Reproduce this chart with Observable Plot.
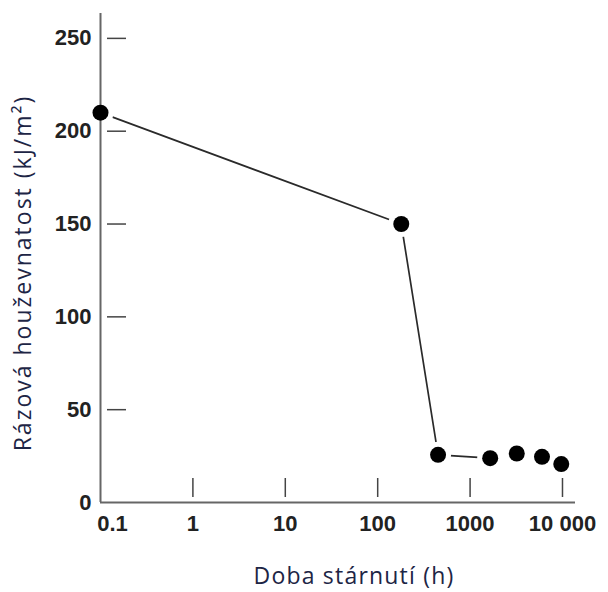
<!DOCTYPE html>
<html><head><meta charset="utf-8">
<script src="https://cdn.jsdelivr.net/npm/d3@7"></script>
<script src="https://cdn.jsdelivr.net/npm/@observablehq/plot@0.6"></script>
<style>body{margin:0;background:#fff} #chart svg{display:block}</style>
</head><body><div id="chart"></div>
<script>
const agingHours = [0.1, 180, 450, 1650, 3200, 6000, 9700];
const impactToughness = [210, 150, 25.7, 23.9, 26.4, 24.6, 20.7];
const joinedByLine = [true, true, true, true, false, false, false];
const xTickValues = [1, 10, 100, 1000, 10000];
const xTickLabels = ["1", "10", "100", "1000", "10 000"];
const xOriginValue = [0.1];
const xOriginLabel = "0.1";
const yTickValues = [0, 50, 100, 150, 200, 250];
const xTitle = "Doba stárnutí (h)";
const yTitle = "Rázová houževnatost (kJ/m²)";

const data = agingHours.map((h, i) => ({h, t: impactToughness[i], joined: joinedByLine[i]}));
const numFont = "'Liberation Sans', Arial, sans-serif";

const plot = Plot.plot({
  width: 608, height: 592,
  marginLeft: 100, marginRight: 33, marginTop: 13, marginBottom: 90,
  style: {fontFamily: numFont, fontWeight: "bold", fontSize: "22px", color: "#222", background: "#fff"},
  x: {type: "log", domain: [0.1, 13830]},
  y: {domain: [0, 263.4]},
  marks: [
    Plot.line(data.filter(d => d.joined), {x: "h", y: "t", stroke: "#2a2a2a", strokeWidth: 1.7}),
    Plot.dot(data, {x: "h", y: "t", r: 13, fill: "white"}),
    Plot.ruleX(xOriginValue, {stroke: "#666", strokeWidth: 2}),
    Plot.ruleY([0], {stroke: "#666", strokeWidth: 2}),
    Plot.axisY(yTickValues.filter(v => v > 0), {anchor: "left", tickSize: -19, dx: 7, fill: "none", label: null, stroke: "#444", strokeWidth: 1.5}),
    Plot.axisY(yTickValues, {anchor: "left", stroke: "none", label: null, fill: "#222"}),
    Plot.axisX(xTickValues, {anchor: "bottom", tickSize: -19, dy: -5, fill: "none", label: null, stroke: "#444", strokeWidth: 1.5}),
    Plot.axisX(xTickValues, {anchor: "bottom", stroke: "none", tickPadding: 7, label: null, fill: "#222",
      tickFormat: v => xTickLabels[xTickValues.indexOf(v)]}),
    Plot.axisX(xOriginValue, {anchor: "bottom", stroke: "none", tickPadding: 7, dx: 12, label: null, fill: "#222",
      tickFormat: () => xOriginLabel}),
    Plot.dot(data, {x: "h", y: "t", r: 8, fill: "black"})
  ]
});
document.getElementById("chart").appendChild(plot);

const svg = d3.select(plot);
const titleStyle = (s, spacing) => s.attr("font-family", "'Open Sans', sans-serif")
  .attr("font-size", 23).attr("font-weight", "normal")
  .attr("letter-spacing", spacing).attr("fill", "#1d2545").attr("text-anchor", "middle");
svg.append("text").attr("x", 354).attr("y", 584).text(xTitle).call(titleStyle, "1.2px");
svg.append("text").attr("transform", "translate(31,273) rotate(-90)").text(yTitle).call(titleStyle, "2px");
</script>
</body></html>
